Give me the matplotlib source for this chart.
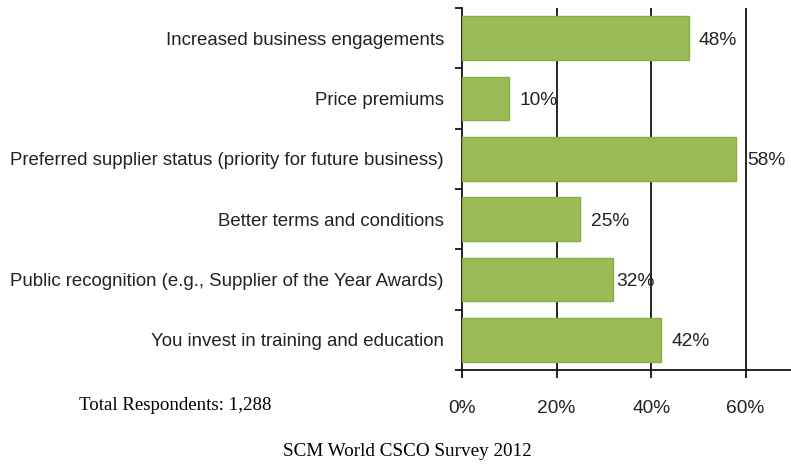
import matplotlib
matplotlib.use("Agg")
import matplotlib.pyplot as plt

categories = [
    "Increased business engagements",
    "Price premiums",
    "Preferred supplier status (priority for future business)",
    "Better terms and conditions",
    "Public recognition (e.g., Supplier of the Year Awards)",
    "You invest in training and education",
]
values = [48, 10, 58, 25, 32, 42]
xticks = [0, 20, 40, 60]
xtick_labels = ["0%", "20%", "40%", "60%"]

# horizontal gap (in data units) between each bar end and its value label
label_gaps = [2.1, 2.1, 2.3, 2.3, 0.6, 2.3]

px = 1 / 100
fig = plt.figure(figsize=(791 * px, 466 * px), dpi=100)
ax = fig.add_axes([462 / 791, 1 - 370 / 466, 1 - 462 / 791, (370 - 8) / 466])

n = len(categories)
ypos = list(range(n))[::-1]
ax.barh(ypos, values, height=0.72, color="#9bbb59", edgecolor="#86b13c",
        linewidth=1.0, zorder=3)

sans = "Liberation Sans"
for y, v, g in zip(ypos, values, label_gaps):
    ax.text(v + g, y, f"{v}%", va="center_baseline", ha="left", fontsize=13.8,
            family=sans, color="#222222", zorder=4)

ax.set_xlim(0, 69.6)
ax.set_ylim(-0.5, n - 0.5)

for x in xticks[1:]:
    ax.axvline(x, color="black", linewidth=1.2, zorder=1)

ax.set_xticks(xticks)
ax.set_xticklabels(xtick_labels, family=sans, fontsize=13.8, color="#222222")
ax.tick_params(axis="x", length=6, width=1.2, pad=15.5, direction="out")

ax.set_yticks(ypos)
ax.set_yticklabels(categories, family=sans, fontsize=13.4, color="#222222")
ax.set_yticks([i - 0.5 for i in range(n + 1)], minor=True)
ax.tick_params(axis="y", which="major", length=0, pad=13)
ax.tick_params(axis="y", which="minor", length=5, width=1.2, direction="out")

for side in ("top", "right"):
    ax.spines[side].set_visible(False)
for side in ("left", "bottom"):
    ax.spines[side].set_linewidth(1.2)
    ax.spines[side].set_color("black")

serif = "Liberation Serif"
fig.text(79 / 791, 1 - 406 / 466, "Total Respondents: 1,288", family=serif,
         fontsize=13.6, va="center", ha="left")
fig.text(407 / 791, 1 - 452 / 466, "SCM World CSCO Survey 2012", family=serif,
         fontsize=13.8, va="center", ha="center")

fig.savefig("out.png", dpi=100)
